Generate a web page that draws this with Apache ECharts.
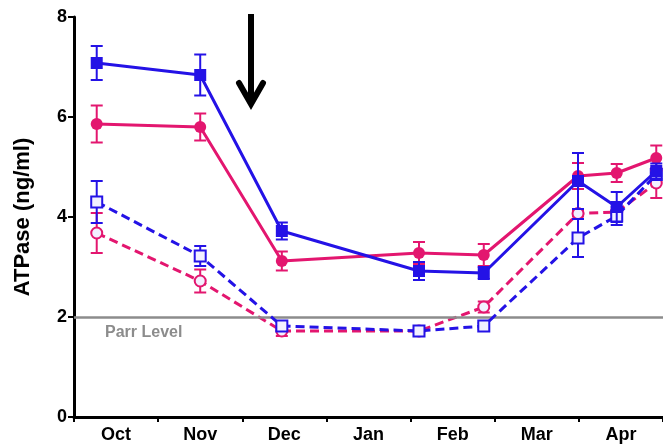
<!DOCTYPE html>
<html><head><meta charset="utf-8">
<script src="https://cdn.jsdelivr.net/npm/echarts@6/dist/echarts.min.js"></script>
<style>html,body{margin:0;padding:0;background:#fff}#c{width:663px;height:444px}</style>
</head><body><div id="c"></div>
<script>
const months = ['Oct','Nov','Dec','Jan','Feb','Mar','Apr'];
const xPos = [0.27, 1.5, 2.47, 4.1, 4.87, 5.99, 6.45, 6.92];
const blueSolid = [7.08, 6.84, 3.72, 2.92, 2.88, 4.72, 4.2, 4.92];
const blueSolidErr = [0.34, 0.41, 0.17, 0.18, 0.12, 0.56, 0.3, 0.15];
const pinkSolid = [5.86, 5.8, 3.12, 3.28, 3.24, 4.82, 4.88, 5.18];
const pinkSolidErr = [0.37, 0.27, 0.19, 0.22, 0.22, 0.26, 0.18, 0.25];
const blueDashed = [4.3, 3.22, 1.82, 1.72, 1.82, 3.58, 4.02, 4.85];
const blueDashedErr = [0.42, 0.2, 0.1, 0.1, 0.06, 0.38, 0.18, 0.1];
const pinkDashed = [3.68, 2.72, 1.72, 1.72, 2.2, 4.07, 4.1, 4.68];
const pinkDashedErr = [0.4, 0.23, 0.1, 0.06, 0.11, 0.06, 0.06, 0.3];
const parrLevel = 2;
const yTicks = [0, 2, 4, 6, 8];

const BLUE = '#2412e6', PINK = '#e3166f';
const pairs = v => xPos.map((x, i) => [x, v[i]]);
const errData = (v, e) => xPos.map((x, i) => [x, v[i] - e[i], v[i] + e[i]]);

function errSeries(v, e, color, z) {
  return {
    type: 'custom', xAxisIndex: 1, z: z, silent: true,
    data: errData(v, e),
    renderItem: function (params, api) {
      const lo = api.coord([api.value(0), api.value(1)]);
      const hi = api.coord([api.value(0), api.value(2)]);
      const w = 6;
      const st = { stroke: color, lineWidth: 2 };
      return { type: 'group', children: [
        { type: 'line', shape: { x1: lo[0], y1: lo[1], x2: hi[0], y2: hi[1] }, style: st },
        { type: 'line', shape: { x1: lo[0]-w, y1: lo[1], x2: lo[0]+w, y2: lo[1] }, style: st },
        { type: 'line', shape: { x1: hi[0]-w, y1: hi[1], x2: hi[0]+w, y2: hi[1] }, style: st }
      ]};
    }
  };
}
function lineSeries(v, color, dashed, symbol, filled, z) {
  return {
    type: 'line', xAxisIndex: 1, z: z, data: pairs(v),
    symbol: symbol, symbolSize: filled ? 12 : 11,
    lineStyle: { color: color, width: 3, type: dashed ? [9, 5] : 'solid' },
    itemStyle: { color: filled ? color : '#f2f0ff', borderColor: color, borderWidth: filled ? 0 : 2 },
    emphasis: { disabled: true }, animation: false
  };
}

const chart = echarts.init(document.getElementById('c'));
chart.setOption({
  animation: false,
  grid: { left: 74, top: 17, right: 0, bottom: 26, containLabel: false },
  xAxis: [
    { type: 'category', data: months, boundaryGap: true,
      axisLine: { lineStyle: { color: '#000', width: 3 } },
      axisTick: { show: true, length: 5, lineStyle: { color: '#000', width: 2 } },
      axisLabel: { color: '#000', fontFamily: 'Liberation Sans', fontWeight: 'bold', fontSize: 18, margin: 9 } },
    { type: 'value', min: 0, max: 7, show: false }
  ],
  yAxis: {
    type: 'value', min: 0, max: 8, interval: 2,
    name: 'ATPase (ng/ml)', nameLocation: 'middle', nameGap: 40,
    nameTextStyle: { color: '#000', fontFamily: 'Liberation Sans', fontWeight: 'bold', fontSize: 22 },
    axisLine: { show: true, lineStyle: { color: '#000', width: 3 } },
    axisTick: { show: true, length: 6, lineStyle: { color: '#000', width: 2 } },
    axisLabel: { color: '#000', fontFamily: 'Liberation Sans', fontWeight: 'bold', fontSize: 18, margin: 7,
      formatter: v => yTicks.includes(v) ? String(v) : '' },
    splitLine: { show: false }
  },
  series: [
    {
      type: 'line', xAxisIndex: 1, data: [], z: 1,
      markLine: {
        silent: true, symbol: 'none',
        lineStyle: { color: '#8c8c8c', width: 2.5, type: 'solid' },
        label: { show: true, position: 'insideStartBottom', formatter: 'Parr Level', distance: [31, 8],
          color: '#8c8c8c', fontFamily: 'Liberation Sans', fontWeight: 'bold', fontSize: 16 },
        data: [{ yAxis: parrLevel }]
      }
    },
    errSeries(pinkDashed, pinkDashedErr, PINK, 2),
    lineSeries(pinkDashed, PINK, true, 'circle', false, 3),
    errSeries(blueDashed, blueDashedErr, BLUE, 4),
    lineSeries(blueDashed, BLUE, true, 'rect', false, 5),
    errSeries(pinkSolid, pinkSolidErr, PINK, 6),
    lineSeries(pinkSolid, PINK, false, 'circle', true, 7),
    errSeries(blueSolid, blueSolidErr, BLUE, 8),
    lineSeries(blueSolid, BLUE, false, 'rect', true, 9)
  ],
  graphic: [
    { type: 'line', shape: { x1: 251, y1: 14, x2: 251, y2: 102 }, style: { stroke: '#000', lineWidth: 6 }, z: 100 },
    { type: 'polyline', shape: { points: [[239, 83], [251, 104], [263, 83]] },
      style: { stroke: '#000', lineWidth: 6, fill: null, lineCap: 'round', lineJoin: 'miter' }, z: 100 }
  ]
});
</script></body></html>
